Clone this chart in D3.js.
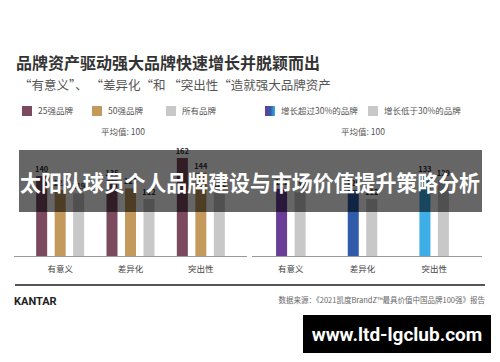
<!DOCTYPE html>
<html>
<head>
<meta charset="utf-8">
<script src="https://cdn.jsdelivr.net/npm/d3@7"></script>
<style>
  body { margin: 0; background: #fff; }
  svg { display: block; font-family: "Noto Sans CJK SC", "Noto Sans", sans-serif; }
</style>
</head>
<body>
<div id="chart"></div>
<script>
// data
let categories = ["有意义", "差异化", "突出性"];
let leftSeries = ["25强品牌", "50强品牌", "所有品牌"];
let top25 = [140, 135, 162];
let top50 = [123, 125, 144];
let allBrands = [119, 112, 122];
let rightSeries = ["增长超过30%的品牌", "增长低于30%的品牌"];
let growthHigh = [121, 120, 133];
let growthLow = [118, 112, 129];
let avgLabel = "平均值: 100";

let width = 500, height = 362;
let svg = d3.select("#chart").append("svg")
    .attr("width", width)
    .attr("height", height);

let defs = svg.append("defs");
let grad = defs.append("linearGradient").attr("id", "growGrad");
grad.append("stop").attr("offset", "0%").attr("stop-color", "#6a3d96");
grad.append("stop").attr("offset", "55%").attr("stop-color", "#2f5ba8");
grad.append("stop").attr("offset", "100%").attr("stop-color", "#3eaee6");

let leftColors = ["#7b4a5e", "#c49a5c", "#c8c8c8"];
let rightColors = [["#6a3d96", "#2f5ba8", "#3eaee6"], ["#c8c8c8", "#c8c8c8", "#c8c8c8"]];

// title
svg.append("text").attr("x", 16).attr("y", 69)
    .attr("font-size", 16).attr("font-weight", 700).attr("fill", "#333")
    .text("品牌资产驱动强大品牌快速增长并脱颖而出");
svg.append("text").attr("x", 19).attr("y", 90)
    .attr("font-size", 12.5).attr("fill", "#555")
    .text("“有意义”、 “差异化“和 “突出性“造就强大品牌资产");

// legend
let legendItems = [
    {x: 22, label: leftSeries[0], fill: leftColors[0]},
    {x: 92, label: leftSeries[1], fill: leftColors[1]},
    {x: 166, label: leftSeries[2], fill: leftColors[2]},
    {x: 265, label: rightSeries[0], fill: "url(#growGrad)"},
    {x: 368, label: rightSeries[1], fill: "#c8c8c8"}
];
let lg = svg.selectAll(".lg").data(legendItems).enter().append("g")
    .attr("transform", d => "translate(" + d.x + ",106)");
lg.append("rect").attr("width", 10).attr("height", 10).attr("fill", d => d.fill);
lg.append("text").attr("x", 16).attr("y", 5).attr("dy", "0.35em")
    .attr("font-size", 8.5).attr("fill", "#555").text(d => d.label);

svg.append("text").attr("x", 123).attr("y", 132).attr("dy", "0.35em")
    .attr("text-anchor", "middle").attr("font-size", 8.5).attr("fill", "#555").text(avgLabel);
svg.append("text").attr("x", 363).attr("y", 132).attr("dy", "0.35em")
    .attr("text-anchor", "middle").attr("font-size", 8.5).attr("fill", "#555").text(avgLabel);

let baseY = 256;

function drawGroup(opts) {
    let x0 = d3.scaleBand().domain(categories).range(opts.xRange);
    let x1 = d3.scaleBand().domain(d3.range(opts.series.length))
        .range([0, opts.innerW]).paddingInner(0.405);
    let y = d3.scaleLinear().domain(opts.yDomain).range([baseY, opts.yTop]);

    let rows = [];
    categories.forEach(function(c, i){
        opts.series.forEach(function(vals, j){
            rows.push({cat: c, s: j, v: vals[i], fill: opts.colorOf(i, j)});
        });
    });

    let g = svg.append("g");
    let bx = d => x0(d.cat) + x0.bandwidth() / 2 - opts.innerW / 2 + x1(d.s);
    g.selectAll("rect").data(rows).enter().append("rect")
        .attr("x", bx)
        .attr("y", d => y(d.v))
        .attr("width", x1.bandwidth())
        .attr("height", d => baseY - y(d.v))
        .attr("fill", d => d.fill);
    g.selectAll("text.val").data(rows).enter().append("text")
        .attr("class", "val")
        .attr("x", d => bx(d) + x1.bandwidth() / 2)
        .attr("y", d => y(d.v) - 4)
        .attr("text-anchor", "middle")
        .attr("font-size", 7.5).attr("font-weight", 700).attr("fill", "#333")
        .text(d => d.v);

    g.append("line").attr("x1", opts.line[0]).attr("x2", opts.line[1])
        .attr("y1", baseY + 0.5).attr("y2", baseY + 0.5)
        .attr("stroke", "#999").attr("stroke-width", 1);

    g.selectAll("text.cat").data(categories).enter().append("text")
        .attr("class", "cat")
        .attr("x", d => x0(d) + x0.bandwidth() / 2)
        .attr("y", 269).attr("dy", "0.35em")
        .attr("text-anchor", "middle").attr("font-size", 8.5).attr("fill", "#444")
        .text(d => d);
}

drawGroup({
    series: [top25, top50, allBrands],
    xRange: [25, 236], innerW: 48,
    yDomain: [42.5, 162], yTop: 158,
    line: [14, 247],
    colorOf: (i, j) => leftColors[j]
});
drawGroup({
    series: [growthHigh, growthLow],
    xRange: [255, 470], innerW: 29.5,
    yDomain: [61, 133], yTop: 175.5,
    line: [252, 482],
    colorOf: (i, j) => rightColors[j][i]
});

// footer
svg.append("line").attr("x1", 15).attr("x2", 485).attr("y1", 285).attr("y2", 285)
    .attr("stroke", "#555").attr("stroke-width", 2);
svg.append("text").attr("x", 14).attr("y", 301).attr("dy", "0.35em")
    .attr("font-family", "Roboto, sans-serif")
    .attr("font-size", 11).attr("font-weight", 700).attr("fill", "#222").text("KANTAR");
svg.append("text").attr("x", 485).attr("y", 300).attr("dy", "0.35em")
    .attr("text-anchor", "end").attr("font-size", 7.5).attr("fill", "#666")
    .text("数据来源：《2021凯度BrandZ™最具价值中国品牌100强》报告");

// overlay banner
svg.append("rect").attr("x", 19).attr("y", 150).attr("width", 463).attr("height", 62)
    .attr("fill", "rgba(0,0,0,0.6)");
svg.append("text").attr("x", 20).attr("y", 183).attr("dy", "0.36em")
    .attr("font-size", 21.5).attr("font-weight", 700)
    .attr("textLength", 460).attr("lengthAdjust", "spacingAndGlyphs")
    .attr("fill", "#fff").text("太阳队球员个人品牌建设与市场价值提升策略分析");

// watermark
svg.append("rect").attr("x", 303).attr("y", 315).attr("width", 188).attr("height", 38)
    .attr("fill", "#000");
svg.append("text").attr("x", 397).attr("y", 334).attr("dy", "0.35em")
    .attr("text-anchor", "middle").attr("font-family", "Roboto, sans-serif")
    .attr("font-size", 19).attr("font-weight", 700).attr("fill", "#fff")
    .text("www.ltd-lgclub.com");
</script>
</body>
</html>
